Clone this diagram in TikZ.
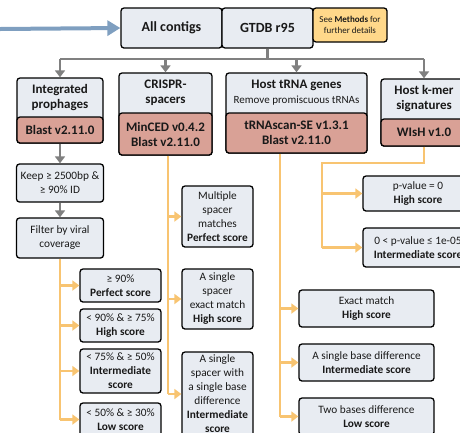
\documentclass[tikz,border=0pt]{standalone}
\usepackage{fontspec}
\setmainfont{Carlito}
\usetikzlibrary{arrows.meta}
\definecolor{boxfill}{HTML}{E8ECF2}
\definecolor{toolfill}{HTML}{D9A196}
\definecolor{notefill}{HTML}{FFD88A}
\definecolor{orangeline}{HTML}{F8C471}
\definecolor{grayline}{HTML}{808080}
\definecolor{blueline}{HTML}{7F9FC0}
\begin{document}
\begin{tikzpicture}[x=1pt,y=-1pt,
  box/.style={draw=black, line width=1.3pt, rounded corners=3pt, fill=boxfill, align=center, inner sep=0pt, text=black!90, font=\fontsize{11.3}{14}\selectfont},
  bighead/.style={font=\fontsize{13}{15}\selectfont\bfseries},
  tophead/.style={font=\fontsize{14}{16}\selectfont\bfseries},
  tool/.style={box, fill=toolfill, bighead},
  head/.style={align=center, inner sep=0pt, text=black!90, bighead},
  grayseg/.style={draw=grayline, line width=2.4pt},
  graylink/.style={grayseg, -{Triangle[length=7pt,width=10pt]}},
  orangeseg/.style={draw=orangeline, line width=2.2pt},
  orangelink/.style={orangeseg, -{Triangle[length=7pt,width=10pt]}}
]
\useasboundingbox (0,0) rectangle (460,432);

% top row
\node[box, tophead, minimum width=101pt, minimum height=40pt] (allc) at (171.5,28) {All contigs};
\node[box, tophead, minimum width=91pt, minimum height=40pt] (gtdb) at (267.5,28) {GTDB r95};
\node[box, fill=notefill, minimum width=74pt, minimum height=34pt, font=\fontsize{9}{11}\selectfont] (meth) at (350,25) {See \textbf{Methods} for\\further details};

\coordinate (src) at (0,29);
\draw[blueline, line width=4pt, -{Triangle[length=13pt,width=15pt]}] (src) -- (allc.west);

% second row boxes
\node[box, minimum width=86pt, minimum height=65pt] (proph) at (60,110.5) {};
\node[tool, minimum width=86pt, minimum height=26pt] (prophtool) at (60,130) {Blast v2.11.0};
\node[head] (prophtitle) at (60,97.5) {Integrated\\prophages};

\node[box, minimum width=93pt, minimum height=82pt] (crispr) at (165.5,114) {};
\node[tool, minimum width=93pt, minimum height=42pt] (crisprtool) at (165.5,134) {MinCED v0.4.2\\Blast v2.11.0};
\node[head] (crisprtitle) at (165.5,93) {CRISPR-\\spacers};

\node[box, minimum width=141pt, minimum height=80pt] (trna) at (296.5,113) {};
\node[tool, minimum width=141pt, minimum height=40pt] (trnatool) at (296.5,133) {tRNAscan-SE v1.3.1\\Blast v2.11.0};
\node[head] (trnatitle) at (296.5,93) {Host tRNA genes\\{\fontsize{11}{12}\selectfont\mdseries Remove promiscuous tRNAs}};

\node[box, minimum width=86pt, minimum height=67pt] (kmer) at (424,112.5) {};
\node[tool, minimum width=86pt, minimum height=27pt] (kmertool) at (424,132.5) {WIsH v1.0};
\node[head] (kmertitle) at (424,99) {Host k-mer\\signatures};

% gray bus
\coordinate (busm) at (gtdb.south |- 0,59);
\coordinate (busl) at (proph.north |- busm);
\coordinate (busr) at (kmer.north |- busm);
\draw[grayseg] (gtdb.south) -- (busm);
\draw[grayseg] (busl) -- (busr);
\draw[graylink] (busl) -- (proph.north);
\draw[graylink] (crispr.north |- busm) -- (crispr.north);
\draw[graylink] (trna.north |- busm) -- (trna.north);
\draw[graylink] (busr) -- (kmer.north);

% prophage column
\node[box, minimum width=87pt, minimum height=38pt] (keep) at (60,183) {Keep ≥ 2500bp \&\\≥ 90\% ID};
\node[box, minimum width=87pt, minimum height=40pt] (filt) at (60,238) {Filter by viral\\coverage};
\draw[graylink] (prophtool.south) -- (keep.north);
\draw[graylink] (keep.south) -- (filt.north);

\node[box, minimum width=81pt, minimum height=33pt] (s1) at (120.5,285.5) {≥ 90\%\\\textbf{Perfect score}};
\node[box, minimum width=81pt, minimum height=33pt] (s2) at (120.5,325.5) {< 90\% \& ≥ 75\%\\\textbf{High score}};
\node[box, minimum width=81pt, minimum height=44pt] (s3) at (120.5,371) {< 75\% \& ≥ 50\%\\\textbf{Intermediate}\\\textbf{score}};
\node[box, minimum width=81pt, minimum height=33pt] (s4) at (120.5,419.5) {< 50\% \& ≥ 30\%\\\textbf{Low score}};
\draw[orangeseg] (filt.south) -- (filt.south |- s4.west);
\foreach \n in {s1,s2,s3,s4} \draw[orangelink] (filt.south |- \n.west) -- (\n.west);

% CRISPR column
\coordinate (cdrop) at ([xshift=2.5pt]crisprtool.south);
\node[box, minimum width=71pt, minimum height=61pt] (m1) at (217.5,216.5) {Multiple\\spacer\\matches\\\textbf{Perfect score}};
\node[box, minimum width=71pt, minimum height=60pt] (m2) at (217.5,299) {A single\\spacer\\exact match\\\textbf{High score}};
\node[box, minimum width=71pt, minimum height=84pt] (m3) at (217.5,394) {A single\\spacer with\\a single base\\difference\\\textbf{Intermediate}\\\textbf{score}};
\draw[orangeseg] (cdrop) -- (cdrop |- m3.west);
\foreach \n in {m1,m2,m3} \draw[orangelink] (cdrop |- \n.west) -- (\n.west);

% tRNA column
\coordinate (tdrop) at ([xshift=-16.5pt]trnatool.south);
\node[box, minimum width=135pt, minimum height=37pt] (t1) at (366.5,308.5) {Exact match\\\textbf{High score}};
\node[box, minimum width=135pt, minimum height=37pt] (t2) at (366.5,362.5) {A single base difference\\\textbf{Intermediate score}};
\node[box, minimum width=135pt, minimum height=37pt] (t3) at (366.5,416.5) {Two bases difference\\\textbf{Low score}};
\draw[orangeseg] (tdrop) -- (tdrop |- t3.west);
\foreach \n in {t1,t2,t3} \draw[orangelink] (tdrop |- \n.west) -- (\n.west);

% k-mer column
\node[box, minimum width=110pt, minimum height=35pt] (k1) at (418,193.5) {p-value = 0\\\textbf{High score}};
\node[box, minimum width=110pt, minimum height=39pt] (k2) at (418,247.5) {0 < p-value ≤ 1e-05\\\textbf{Intermediate score}};
\coordinate (kb1) at (kmertool.south |- 0,163);
\coordinate (kb2) at (322,163);
\draw[orangeseg, line join=miter] (kmertool.south) -- (kb1) -- (kb2) -- (kb2 |- k2.west);
\foreach \n in {k1,k2} \draw[orangelink] (kb2 |- \n.west) -- (\n.west);
\end{tikzpicture}
\end{document}
